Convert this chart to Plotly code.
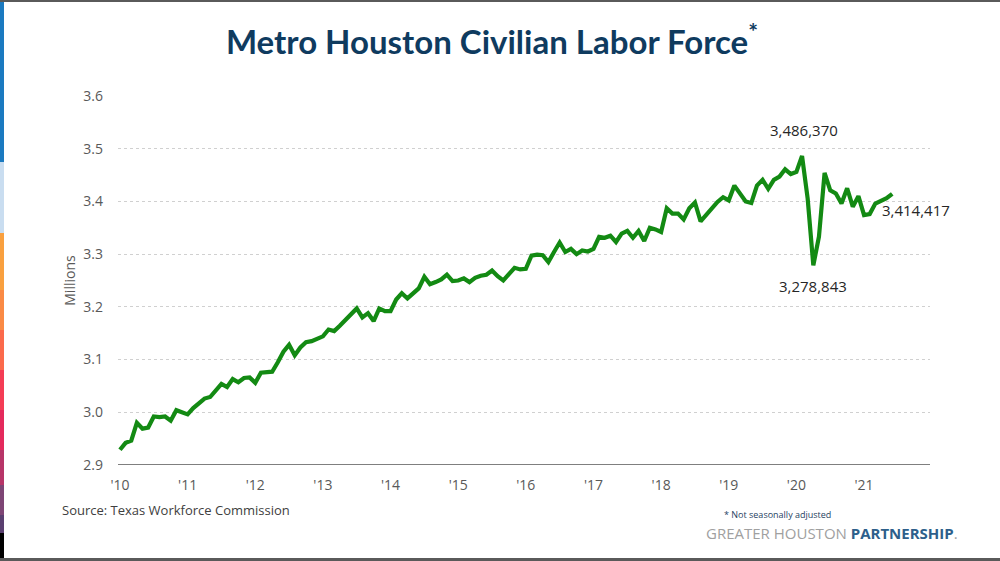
import plotly.graph_objects as go

# Monthly labor force, Jan 2010 - Jun 2021 (millions)
values = [
    2.929, 2.942, 2.946, 2.980, 2.969, 2.971, 2.992, 2.991, 2.992, 2.984, 3.004, 2.999,  # 2010
    2.996, 3.008, 3.016, 3.026, 3.029, 3.042, 3.054, 3.048, 3.063, 3.057, 3.065, 3.066,  # 2011
    3.056, 3.075, 3.076, 3.077, 3.095, 3.115, 3.128, 3.108, 3.123, 3.133, 3.135, 3.139,  # 2012
    3.144, 3.157, 3.154, 3.164, 3.175, 3.185, 3.197, 3.180, 3.188, 3.173, 3.197, 3.192,  # 2013
    3.192, 3.214, 3.226, 3.216, 3.225, 3.235, 3.257, 3.243, 3.247, 3.252, 3.261, 3.249,  # 2014
    3.250, 3.254, 3.247, 3.255, 3.259, 3.261, 3.269, 3.258, 3.250, 3.262, 3.274, 3.271,  # 2015
    3.272, 3.297, 3.299, 3.298, 3.285, 3.304, 3.322, 3.304, 3.310, 3.300, 3.307, 3.305,  # 2016
    3.310, 3.333, 3.331, 3.335, 3.323, 3.339, 3.344, 3.331, 3.344, 3.325, 3.350, 3.347,  # 2017
    3.342, 3.387, 3.377, 3.377, 3.366, 3.387, 3.398, 3.362, 3.374, 3.387, 3.399, 3.408,  # 2018
    3.402, 3.430, 3.415, 3.400, 3.397, 3.430, 3.441, 3.424, 3.441, 3.447, 3.461, 3.452,  # 2019
    3.456, 3.486370, 3.405, 3.278843, 3.333, 3.454, 3.421, 3.415, 3.396, 3.425, 3.390, 3.410,  # 2020
    3.374, 3.376, 3.396, 3.401, 3.406, 3.414417,  # 2021
]
months = list(range(len(values)))
tick_vals = [12 * i for i in range(12)]
tick_text = ["'10", "'11", "'12", "'13", "'14", "'15", "'16", "'17", "'18", "'19", "'20", "'21"]
y_ticks = [2.9, 3.0, 3.1, 3.2, 3.3, 3.4, 3.5, 3.6]
peak_label, trough_label, last_label = "3,486,370", "3,278,843", "3,414,417"

fig = go.Figure()
fig.add_trace(go.Scatter(x=months, y=values, mode="lines",
                         line=dict(color="#138a13", width=4.2), hoverinfo="skip"))

FONT = "Open Sans"
fig.update_layout(
    width=1000, height=561,
    margin=dict(l=118, r=70, t=96, b=96),
    paper_bgcolor="white", plot_bgcolor="white",
    showlegend=False,
    font=dict(family=FONT, color="#595959", size=14),
    title=dict(text="<b>Metro Houston Civilian Labor Force</b><sup><b>*</b></sup>",
               x=0.492, xanchor="center", y=0.925, yanchor="middle",
               font=dict(family="Lato", size=33, color="#0f3b5f")),
)
fig.update_xaxes(range=[-0.35, 143.7], tickvals=tick_vals, ticktext=tick_text,
                 showgrid=False, zeroline=False, showline=False, ticks="",
                 ticklabelstandoff=10,
                 tickfont=dict(size=14, color="#595959"))
fig.update_yaxes(range=[2.9, 3.6], tickvals=y_ticks, tickformat=".1f",
                 showgrid=True, gridcolor="#d0d0d0", griddash="dot", gridwidth=1,
                 zeroline=False, showline=False, ticks="", ticklabelstandoff=14,
                 tickfont=dict(size=14, color="#595959"),
                 title=dict(text="Millions", font=dict(size=14, color="#595959"), standoff=4))

# baseline axis line
fig.add_shape(type="line", xref="paper", yref="y", x0=0, x1=1, y0=2.9, y1=2.9,
              line=dict(color="#555555", width=1.3))

# value labels
i_peak = values.index(max(values))
i_trough = values.index(min(values[100:]))
fig.add_annotation(x=i_peak, y=values[i_peak], text=peak_label, showarrow=False,
                   yshift=26, xshift=2, font=dict(size=15, color="#262626"))
fig.add_annotation(x=i_trough, y=values[i_trough], text=trough_label, showarrow=False,
                   yshift=-21, font=dict(size=15, color="#262626"))
fig.add_annotation(x=months[-1], y=values[-1], text=last_label, showarrow=False,
                   xanchor="left", xshift=-12, yshift=-16, font=dict(size=15, color="#262626"))

# footer texts
fig.add_annotation(xref="paper", yref="paper", x=-0.072, y=-0.122, xanchor="left", yanchor="middle",
                   text="Source: Texas Workforce Commission", showarrow=False,
                   font=dict(size=13, color="#404040"))
fig.add_annotation(xref="paper", yref="paper", x=0.88, y=-0.133, xanchor="right", yanchor="middle",
                   text="* Not seasonally adjusted", showarrow=False,
                   font=dict(size=9, color="#1f3f5f"))
fig.add_annotation(xref="paper", yref="paper", x=1.037, y=-0.184, xanchor="right", yanchor="middle",
                   text="<span style='color:#a0a0a0'>GREATER HOUSTON </span><b>PARTNERSHIP</b><span style='color:#a0a0a0'>.</span>",
                   showarrow=False, font=dict(size=15, color="#2d5f8b"))

# decorative frame: top/bottom gray rules, left colour strip
deco = [
    (0, 162, "#1b7ac0"), (162, 233, "#c9ddf0"), (233, 290, "#f9a03f"), (290, 330, "#fa8a45"),
    (330, 370, "#fb6a4c"), (370, 410, "#f43d55"), (410, 450, "#e42a5c"), (450, 485, "#b73568"),
    (485, 515, "#7e4575"), (515, 533, "#5a3f70"), (533, 561, "#000000"),
]
pw, ph = 1000 - 118 - 70, 561 - 96 - 96
def px2paper_x(px):
    return (px - 118) / pw
def px2paper_y(py):
    return (561 - 96 - py) / ph
for y0, y1, c in deco:
    fig.add_shape(type="rect", xref="paper", yref="paper",
                  x0=px2paper_x(0), x1=px2paper_x(4), y0=px2paper_y(y1), y1=px2paper_y(y0),
                  fillcolor=c, line=dict(width=0), layer="above")
fig.add_shape(type="rect", xref="paper", yref="paper",
              x0=px2paper_x(0), x1=px2paper_x(1000), y0=px2paper_y(2), y1=px2paper_y(0),
              fillcolor="#5a5a5a", line=dict(width=0))
fig.add_shape(type="rect", xref="paper", yref="paper",
              x0=px2paper_x(0), x1=px2paper_x(1000), y0=px2paper_y(561), y1=px2paper_y(558),
              fillcolor="#5a5a5a", line=dict(width=0))

fig.write_html("out.html")
